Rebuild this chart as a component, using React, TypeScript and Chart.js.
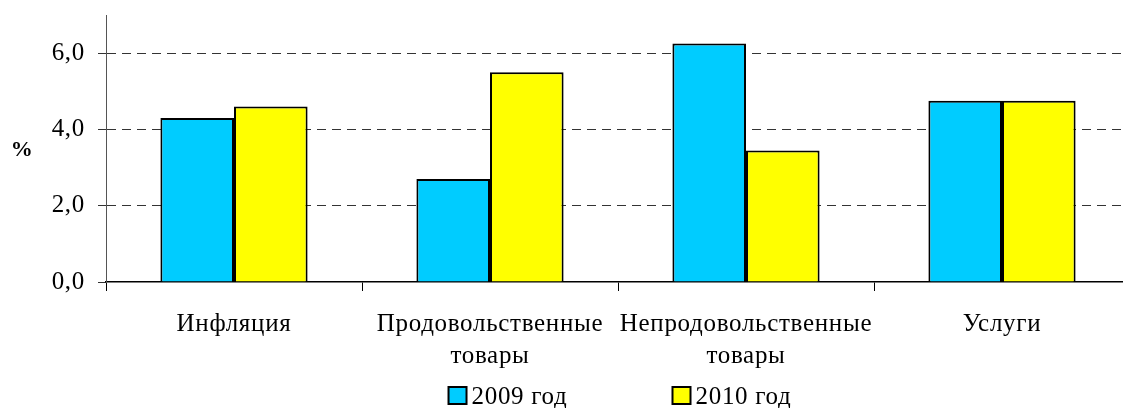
import React, { useEffect, useRef } from 'react';
import { Chart, registerables } from 'chart.js';

Chart.register(...registerables);

const categories: string[][] = [
  ['Инфляция'],
  ['Продовольственные', 'товары'],
  ['Непродовольственные', 'товары'],
  ['Услуги'],
];
const series2009 = [4.3, 2.7, 6.25, 4.75];
const series2010 = [4.6, 5.5, 3.45, 4.75];
const seriesLabels = ['2009 год', '2010 год'];
const seriesColors = ['#00CCFF', '#FFFF00'];
const yTicks = [0, 2, 4, 6];
const yMax = 7;
const yTitle = '%';

const FONT = "'Liberation Serif', 'Times New Roman', serif";

const extrasPlugin = {
  id: 'extras',
  beforeLayout(chart: any) {
    chart.ctx.letterSpacing = '0.7px';
  },
  beforeDraw(chart: any) {
    chart.ctx.letterSpacing = '0.7px';
  },
  afterDraw(chart: any) {
    const { ctx, chartArea } = chart;
    ctx.save();
    // y axis title
    ctx.fillStyle = '#000';
    ctx.font = `bold 22px ${FONT}`;
    ctx.textAlign = 'center';
    ctx.textBaseline = 'middle';
    ctx.fillText(yTitle, 22, (chartArea.top + chartArea.bottom) / 2 + 2);

    // legend
    ctx.font = `25px ${FONT}`;
    ctx.textAlign = 'left';
    ctx.textBaseline = 'alphabetic';
    const box = 18;
    const gapText = 5;
    const gapItems = 105;
    const widths = seriesLabels.map((t) => ctx.measureText(t).width);
    const total = widths.reduce((a, w) => a + box + gapText + w, 0) + gapItems * (seriesLabels.length - 1);
    let x = (chartArea.left + chartArea.right) / 2 + 2 - total / 2;
    const baseline = 404;
    seriesLabels.forEach((t, i) => {
      ctx.fillStyle = seriesColors[i];
      ctx.fillRect(x, baseline - 17, box, box - 1);
      ctx.strokeStyle = '#000';
      ctx.lineWidth = 2;
      ctx.strokeRect(x, baseline - 17, box, box - 1);
      ctx.fillStyle = '#000';
      ctx.fillText(t, x + box + gapText, baseline);
      x += box + gapText + widths[i] + gapItems;
    });
    ctx.restore();
  },
};

export default function App() {
  const ref = useRef<HTMLCanvasElement>(null);
  useEffect(() => {
    document.body.style.margin = '0';
    document.body.style.overflow = 'hidden';
    const canvas = ref.current!;
    const chart = new Chart(canvas, {
      type: 'bar',
      data: {
        labels: categories,
        datasets: [
          {
            label: seriesLabels[0],
            data: series2009,
            backgroundColor: seriesColors[0],
            borderColor: '#000',
            borderWidth: 2,
            categoryPercentage: 0.575,
            barPercentage: 1,
          },
          {
            label: seriesLabels[1],
            data: series2010,
            backgroundColor: seriesColors[1],
            borderColor: '#000',
            borderWidth: 2,
            categoryPercentage: 0.575,
            barPercentage: 1,
          },
        ],
      },
      options: {
        responsive: false,
        animation: false,
        devicePixelRatio: 1,
        layout: { padding: { top: 15, bottom: 0, left: 0, right: 1 } },
        plugins: {
          legend: { display: false },
          tooltip: { enabled: false },
        },
        scales: {
          x: {
            grid: {
              offset: true,
              drawOnChartArea: false,
              drawTicks: true,
              tickLength: 9,
              color: '#000',
            },
            border: { color: '#000', width: 1.5 },
            ticks: {
              color: '#000',
              font: { family: FONT, size: 25, lineHeight: 1.28 },
              padding: 17,
              maxRotation: 0,
              autoSkip: false,
            },
            afterFit: (s: any) => {
              s.height = 126;
              s.paddingLeft = 0;
              s.paddingRight = 0;
            },
          },
          y: {
            min: 0,
            max: yMax,
            afterBuildTicks: (s: any) => {
              s.ticks = yTicks.map((v) => ({ value: v }));
            },
            grid: {
              color: (c: any) => (c.tick && c.tick.value === 0 ? 'rgba(0,0,0,0)' : '#333'),
              tickColor: '#333',
              tickLength: 8,
              lineWidth: 1,
            },
            border: { color: '#555', width: 1, dash: [9, 6] },
            ticks: {
              color: '#000',
              font: { family: FONT, size: 25 },
              padding: 13,
              callback: (v: any) => Number(v).toFixed(1).replace('.', ','),
            },
            afterFit: (s: any) => {
              s.width = 106;
              s.paddingTop = 0;
              s.paddingBottom = 0;
            },
          },
        },
      },
      plugins: [extrasPlugin],
    });
    return () => chart.destroy();
  }, []);
  return (
    <div style={{ width: 1123, height: 408, overflow: 'hidden' }}>
      <canvas ref={ref} width={1131} height={408} style={{ display: 'block' }} />
    </div>
  );
}
